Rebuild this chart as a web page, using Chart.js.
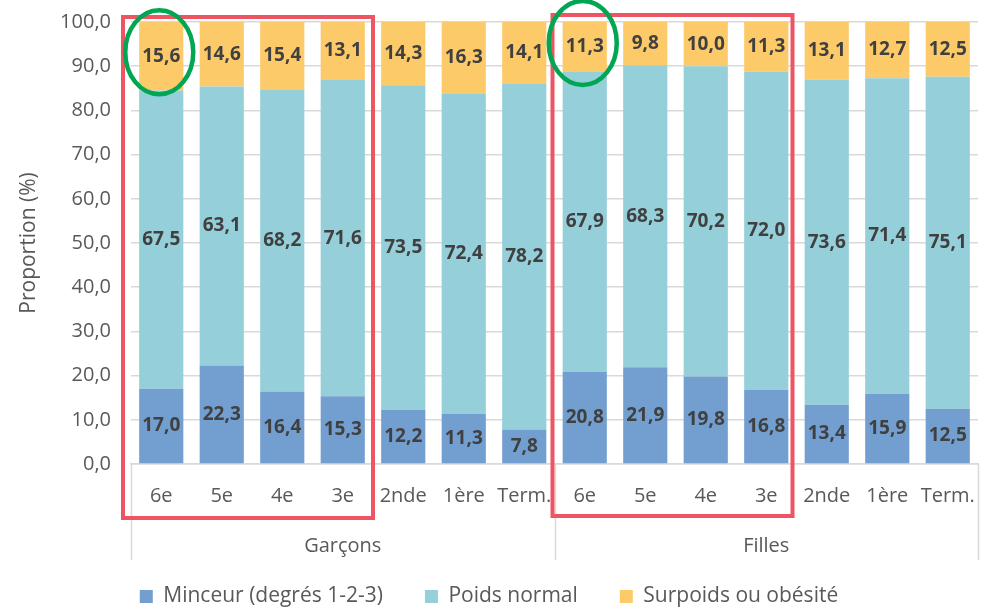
<!DOCTYPE html>
<html>
<head>
<meta charset="utf-8">
<script src="https://cdn.jsdelivr.net/npm/chart.js@4.4.1/dist/chart.umd.min.js"></script>
<style>
  body { margin: 0; background: #fff; }
  #wrap { width: 992px; height: 610px; }
</style>
</head>
<body>
<div id="wrap"><canvas id="chart"></canvas></div>
<script>
const levels = ['6e', '5e', '4e', '3e', '2nde', '1ère', 'Term.', '6e', '5e', '4e', '3e', '2nde', '1ère', 'Term.'];
const groups = ['Garçons', 'Filles'];
const minceur = [17.0, 22.3, 16.4, 15.3, 12.2, 11.3, 7.8, 20.8, 21.9, 19.8, 16.8, 13.4, 15.9, 12.5];
const normal = [67.5, 63.1, 68.2, 71.6, 73.5, 72.4, 78.2, 67.9, 68.3, 70.2, 72.0, 73.6, 71.4, 75.1];
const surpoids = [15.6, 14.6, 15.4, 13.1, 14.3, 16.3, 14.1, 11.3, 9.8, 10.0, 11.3, 13.1, 12.7, 12.5];
const yTicks = [0, 10, 20, 30, 40, 50, 60, 70, 80, 90, 100];

const FONT = '"Open Sans", sans-serif';
const comma = v => v.toFixed(1).replace('.', ',');

// value labels in the middle of each segment
const valueLabels = {
  id: 'valueLabels',
  afterDatasetsDraw(chart) {
    const ctx = chart.ctx;
    ctx.save();
    ctx.font = 'bold 19px ' + FONT;
    ctx.fillStyle = '#404040';
    ctx.textAlign = 'center';
    ctx.textBaseline = 'middle';
    chart.data.datasets.forEach((ds, di) => {
      chart.getDatasetMeta(di).data.forEach((bar, i) => {
        const top = Math.max(bar.y, chart.chartArea.top);
        ctx.fillText(comma(ds.data[i]), bar.x, (top + bar.base) / 2);
      });
    });
    ctx.restore();
  }
};

// second level of the x axis (Garçons / Filles) and the marks drawn over the chart
const groupAxis = {
  id: 'groupAxis',
  afterDraw(chart) {
    const ctx = chart.ctx;
    const x = chart.scales.x;
    const area = chart.chartArea;
    const per = levels.length / groups.length;
    ctx.save();
    ctx.strokeStyle = '#d9d9d9';
    ctx.lineWidth = 1.5;
    for (let g = 0; g <= groups.length; g++) {
      const px = Math.round(x.getPixelForValue(g * per - 0.5)) + 0.5;
      ctx.beginPath();
      ctx.moveTo(px, area.bottom);
      ctx.lineTo(px, area.bottom + 96);
      ctx.stroke();
    }
    ctx.font = '20px ' + FONT;
    ctx.fillStyle = '#595959';
    ctx.textAlign = 'center';
    ctx.textBaseline = 'middle';
    groups.forEach((g, i) => {
      const mid = x.getPixelForValue(i * per + (per - 1) / 2);
      ctx.fillText(g, mid, area.bottom + 82);
    });

    // red frames around the collège levels
    ctx.strokeStyle = '#ee5563';
    ctx.lineWidth = 4;
    [[0, -8, 0, -5], [per, -2, -4, -7]].forEach(([start, dl, dr, dt]) => {
      const l = x.getPixelForValue(start - 0.5) + dl;
      const r = x.getPixelForValue(start + 3.5) + dr;
      const t = area.top + dt;
      ctx.strokeRect(l, t, r - l, area.bottom + 54 + dt + 5 - t);
    });

    // green ellipses around the first surpoids label of each group
    const meta = chart.getDatasetMeta(2);
    ctx.strokeStyle = '#00a651';
    ctx.lineWidth = 4.5;
    [0, per].forEach(i => {
      const bar = meta.data[i];
      const top = Math.max(bar.y, area.top);
      const cy = (top + bar.base) / 2 - 4;
      ctx.beginPath();
      ctx.ellipse(bar.x - 2, cy, 34, 42, 0, 0, Math.PI * 2);
      ctx.stroke();
    });
    ctx.restore();
  }
};

new Chart(document.getElementById('chart'), {
  type: 'bar',
  data: {
    labels: levels,
    datasets: [
      { label: 'Minceur (degrés 1-2-3)', data: minceur, backgroundColor: '#729fcf' },
      { label: 'Poids normal', data: normal, backgroundColor: '#95cfd9' },
      { label: 'Surpoids ou obésité', data: surpoids, backgroundColor: '#fdca6a' }
    ]
  },
  options: {
    responsive: true,
    maintainAspectRatio: false,
    animation: false,
    layout: { padding: { left: 0, right: 14, top: 22, bottom: -7 } },
    datasets: { bar: { categoryPercentage: 1, barPercentage: 0.73 } },
    scales: {
      x: {
        stacked: true,
        grid: { display: false, drawTicks: false },
        border: { display: true, color: '#d9d9d9', width: 1.5 },
        ticks: { color: '#595959', font: { family: FONT, size: 20 }, padding: 20, maxRotation: 0, autoSkip: false },
        afterFit(scale) { scale.height = 80; scale.paddingLeft = 0; scale.paddingRight = 0; }
      },
      y: {
        stacked: true,
        min: 0,
        max: 100,
        afterBuildTicks(scale) { scale.ticks = yTicks.map(v => ({ value: v })); },
        grid: { color: '#d9d9d9', lineWidth: 1.5, drawTicks: false },
        border: { display: false },
        ticks: { color: '#595959', font: { family: FONT, size: 20 }, padding: 20, callback: v => comma(v) },
        title: { display: true, text: 'Proportion (%)', color: '#595959', font: { family: FONT, size: 21 }, padding: { top: 16, bottom: 0 } },
        afterFit(scale) { scale.width = 131; scale.paddingTop = 0; scale.paddingBottom = 0; }
      }
    },
    plugins: {
      legend: {
        position: 'bottom',
        labels: {
          color: '#595959',
          font: { family: FONT, size: 21 },
          boxWidth: 13,
          boxHeight: 13,
          padding: 42
        }
      },
      tooltip: { enabled: false }
    }
  },
  plugins: [valueLabels, groupAxis]
});
</script>
</body>
</html>
